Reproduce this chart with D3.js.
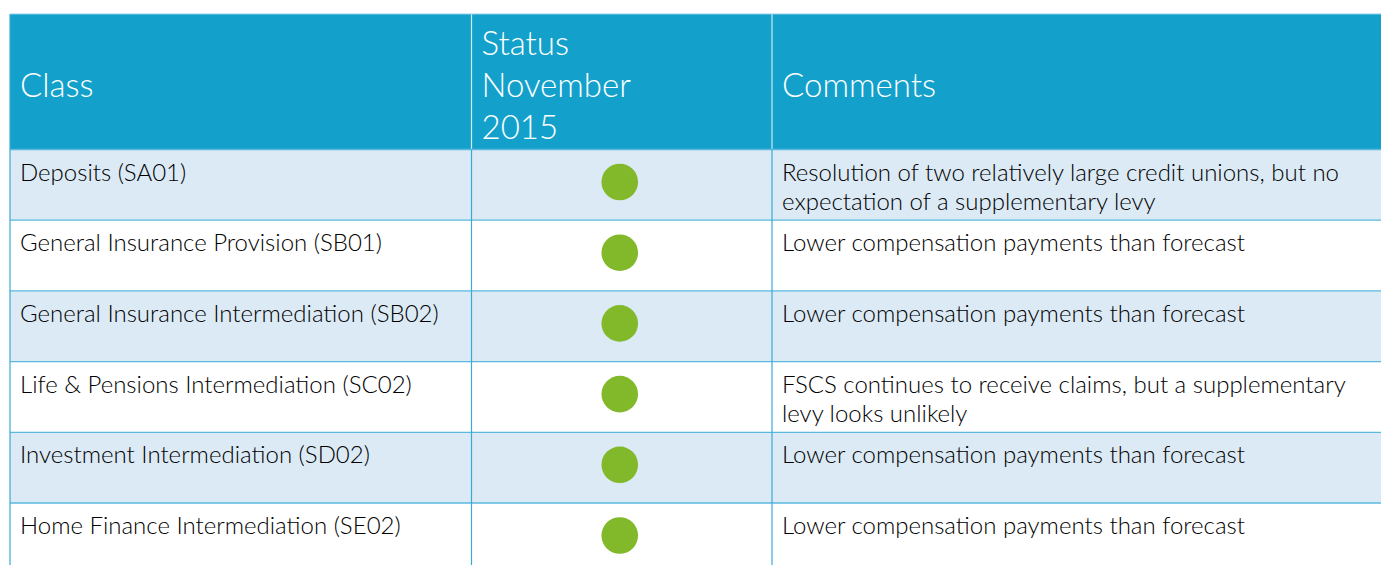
<!DOCTYPE html>
<html>
<head>
<meta charset="utf-8">
<script src="https://cdn.jsdelivr.net/npm/d3@7"></script>
<style>
  body { margin: 0; background: #fff; }
  text { font-family: Lato, "Noto Sans", sans-serif; }
</style>
</head>
<body>
<div id="chart"></div>
<script>
var headers = [["Class"], ["Status", "November", "2015"], ["Comments"]];
var classes = [
  "Deposits (SA01)",
  "General Insurance Provision (SB01)",
  "General Insurance Intermediation (SB02)",
  "Life & Pensions Intermediation (SC02)",
  "Investment Intermediation (SD02)",
  "Home Finance Intermediation (SE02)"
];
var statuses = ["green", "green", "green", "green", "green", "green"];
var comments = [
  ["Resolution of two relatively large credit unions, but no", "expectation of a supplementary levy"],
  ["Lower compensation payments than forecast"],
  ["Lower compensation payments than forecast"],
  ["FSCS continues to receive claims, but a supplementary", "levy looks unlikely"],
  ["Lower compensation payments than forecast"],
  ["Lower compensation payments than forecast"]
];

var width = 1381, height = 565;
var colEdges = [10, 471.5, 772, 1381];
var headTop = 14, headBottom = 149.5, rowH = 70.7;
var statusColor = { green: "#82b92a", amber: "#f0a830", red: "#d9232e" };

var svg = d3.select('#chart').append('svg')
    .attr('width', width).attr('height', height);

var y = d3.scaleBand()
    .domain(d3.range(classes.length))
    .range([headBottom, headBottom + rowH * classes.length]);

// header
svg.append('rect')
    .attr('x', colEdges[0]).attr('y', headTop)
    .attr('width', width - colEdges[0]).attr('height', headBottom - headTop)
    .attr('fill', '#13a1cc');

var head = svg.append('g');
headers.forEach(function(lines, i) {
  var t = head.append('text')
      .attr('x', colEdges[i] + 10)
      .attr('fill', '#fff')
      .attr('font-size', 33)
      .attr('font-weight', 300);
  var first = 96.5 - (lines.length - 1) / 2 * 42;
  lines.forEach(function(l, j) {
    t.append('tspan').attr('x', colEdges[i] + 10).attr('y', first + j * 42).text(l);
  });
});
head.selectAll('line.sep')
    .data(colEdges.slice(1, 3))
    .enter().append('line')
    .attr('x1', function(d) { return d; }).attr('x2', function(d) { return d; })
    .attr('y1', headTop).attr('y2', headBottom)
    .attr('stroke', '#cfeaf5').attr('stroke-width', 1.2);

// rows
var rows = svg.selectAll('g.row')
    .data(classes)
    .enter().append('g')
    .attr('class', 'row')
    .attr('transform', function(d, i) { return 'translate(0,' + y(i) + ')'; });

rows.append('rect')
    .attr('x', colEdges[0]).attr('width', width - colEdges[0])
    .attr('height', y.bandwidth())
    .attr('fill', function(d, i) { return i % 2 === 0 ? '#dbeaf5' : '#ffffff'; });

rows.append('text')
    .attr('x', colEdges[0] + 10).attr('y', 31)
    .attr('font-size', 24).attr('font-weight', 300).attr('fill', '#000')
    .text(function(d) { return d; });

rows.append('circle')
    .attr('cx', (colEdges[1] + colEdges[2]) / 2 - 2)
    .attr('cy', 32.5)
    .attr('r', 18.3)
    .attr('fill', function(d, i) { return statusColor[statuses[i]]; });

rows.append('text')
    .attr('font-size', 24).attr('font-weight', 300).attr('fill', '#000')
    .each(function(d, i) {
      var t = d3.select(this);
      comments[i].forEach(function(l, j) {
        t.append('tspan').attr('x', colEdges[2] + 10).attr('y', 31 + j * 29).text(l);
      });
    });

// grid lines
svg.selectAll('line.h')
    .data(d3.range(classes.length + 1))
    .enter().append('line')
    .attr('x1', colEdges[0]).attr('x2', width)
    .attr('y1', function(i) { return y(i) || headBottom + rowH * i; })
    .attr('y2', function(i) { return y(i) || headBottom + rowH * i; })
    .attr('stroke', '#5ab8df').attr('stroke-width', 1.3);

svg.selectAll('line.v')
    .data(colEdges.slice(0, 3))
    .enter().append('line')
    .attr('x1', function(d) { return d; }).attr('x2', function(d) { return d; })
    .attr('y1', function(d, i) { return i === 0 ? headTop : headBottom; })
    .attr('y2', height)
    .attr('stroke', '#3aa9d6').attr('stroke-width', 1.2);

svg.append('line')
    .attr('x1', colEdges[0]).attr('x2', width)
    .attr('y1', headTop).attr('y2', headTop)
    .attr('stroke', '#8fd0ea').attr('stroke-width', 1);
</script>
</body>
</html>
